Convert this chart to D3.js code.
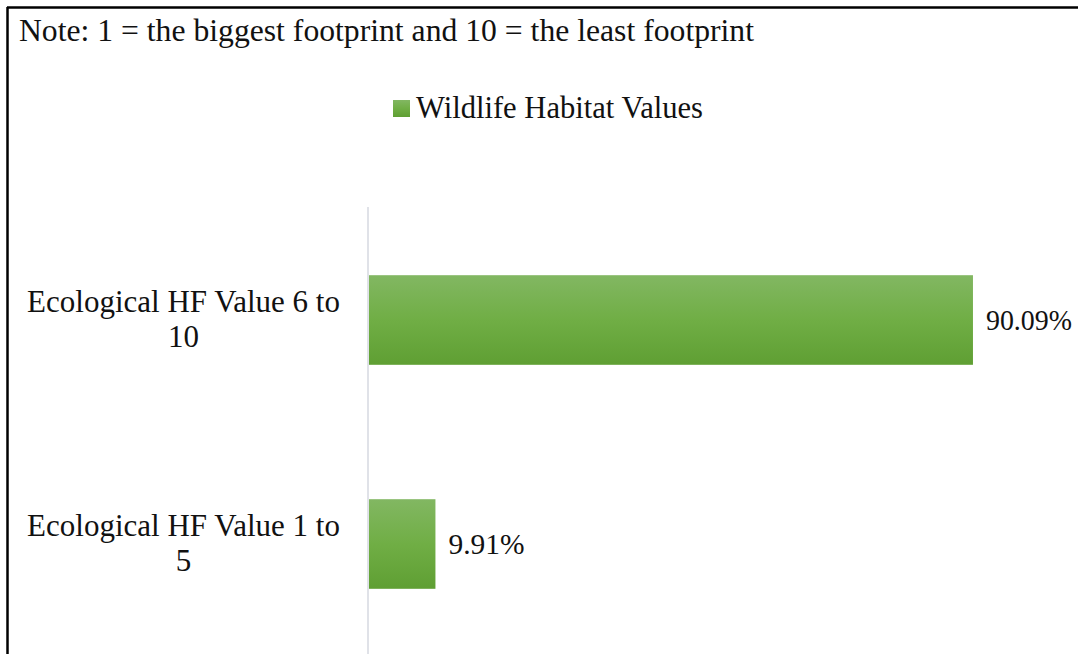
<!DOCTYPE html>
<html>
<head>
<meta charset="utf-8">
<script src="https://cdn.jsdelivr.net/npm/d3@7"></script>
<style>
  html, body { margin: 0; padding: 0; background: #fff; }
  svg { display: block; }
  text { font-family: "Liberation Serif", "DejaVu Serif", serif; fill: #111; }
</style>
</head>
<body>
<svg id="chart" width="1078" height="654"></svg>
<script>
const categories = ["Ecological HF Value 6 to 10", "Ecological HF Value 1 to 5"];
const categoryLines = [["Ecological HF Value 6 to", "10"], ["Ecological HF Value 1 to", "5"]];
const seriesName = "Wildlife Habitat Values";
const values = [90.09, 9.91];
const valueLabels = ["90.09%", "9.91%"];
const noteText = "Note: 1 = the biggest footprint and 10 = the least footprint";

const svg = d3.select("#chart");
const W = 1078, H = 654;
const fontSize = 31;

// frame (top and left border visible)
svg.append("line").attr("x1", 7).attr("x2", W).attr("y1", 7.5).attr("y2", 7.5)
  .attr("stroke", "#000").attr("stroke-width", 2.5);
svg.append("line").attr("x1", 7.5).attr("x2", 7.5).attr("y1", 7).attr("y2", H)
  .attr("stroke", "#000").attr("stroke-width", 2.5);

// gradient
const defs = svg.append("defs");
const grad = defs.append("linearGradient").attr("id", "g").attr("x1", 0).attr("x2", 0).attr("y1", 0).attr("y2", 1);
grad.append("stop").attr("offset", "0%").attr("stop-color", "#82b762");
grad.append("stop").attr("offset", "50%").attr("stop-color", "#70ae45");
grad.append("stop").attr("offset", "100%").attr("stop-color", "#5f9f33");

// note
svg.append("text").attr("x", 19).attr("y", 41).attr("font-size", fontSize)
  .attr("textLength", 735).attr("lengthAdjust", "spacingAndGlyphs").text(noteText);

// scales
const x = d3.scaleLinear().domain([0, 100]).range([369, 369 + 670.4]);
const y = d3.scaleBand().domain(categories).range([208, 656]).paddingInner(0.6).paddingOuter(0.3);

// legend
const lg = svg.append("g");
lg.append("rect").attr("x", 393).attr("y", 100).attr("width", 17).attr("height", 17).attr("fill", "url(#g)");
lg.append("text").attr("x", 416).attr("y", 118).attr("font-size", fontSize)
  .attr("textLength", 287).attr("lengthAdjust", "spacingAndGlyphs").text(seriesName);

// axis line
svg.append("line").attr("x1", 368).attr("x2", 368).attr("y1", 207).attr("y2", H)
  .attr("stroke", "#d9dbe3").attr("stroke-width", 1.6);

// bars
svg.selectAll("rect.bar").data(values).enter().append("rect")
  .attr("class", "bar")
  .attr("x", x(0))
  .attr("y", (d, i) => y(categories[i]))
  .attr("width", d => x(d) - x(0))
  .attr("height", y.bandwidth())
  .attr("fill", "url(#g)");

// value labels
const valueWidths = [86, 76];
svg.selectAll("text.val").data(values).enter().append("text")
  .attr("class", "val")
  .attr("x", d => x(d) + 13)
  .attr("y", (d, i) => y(categories[i]) + y.bandwidth() / 2 + 10)
  .attr("font-size", 29)
  .attr("textLength", (d, i) => valueWidths[i])
  .attr("lengthAdjust", "spacingAndGlyphs")
  .text((d, i) => valueLabels[i]);

// category labels
categories.forEach((c, i) => {
  const cy = y(c) + y.bandwidth() / 2;
  const t = svg.append("text").attr("text-anchor", "middle").attr("font-size", fontSize);
  categoryLines[i].forEach((ln, j) => {
    t.append("tspan").attr("x", 183.5).attr("y", cy - 8 + j * 35).text(ln);
  });
});
</script>
</body>
</html>
